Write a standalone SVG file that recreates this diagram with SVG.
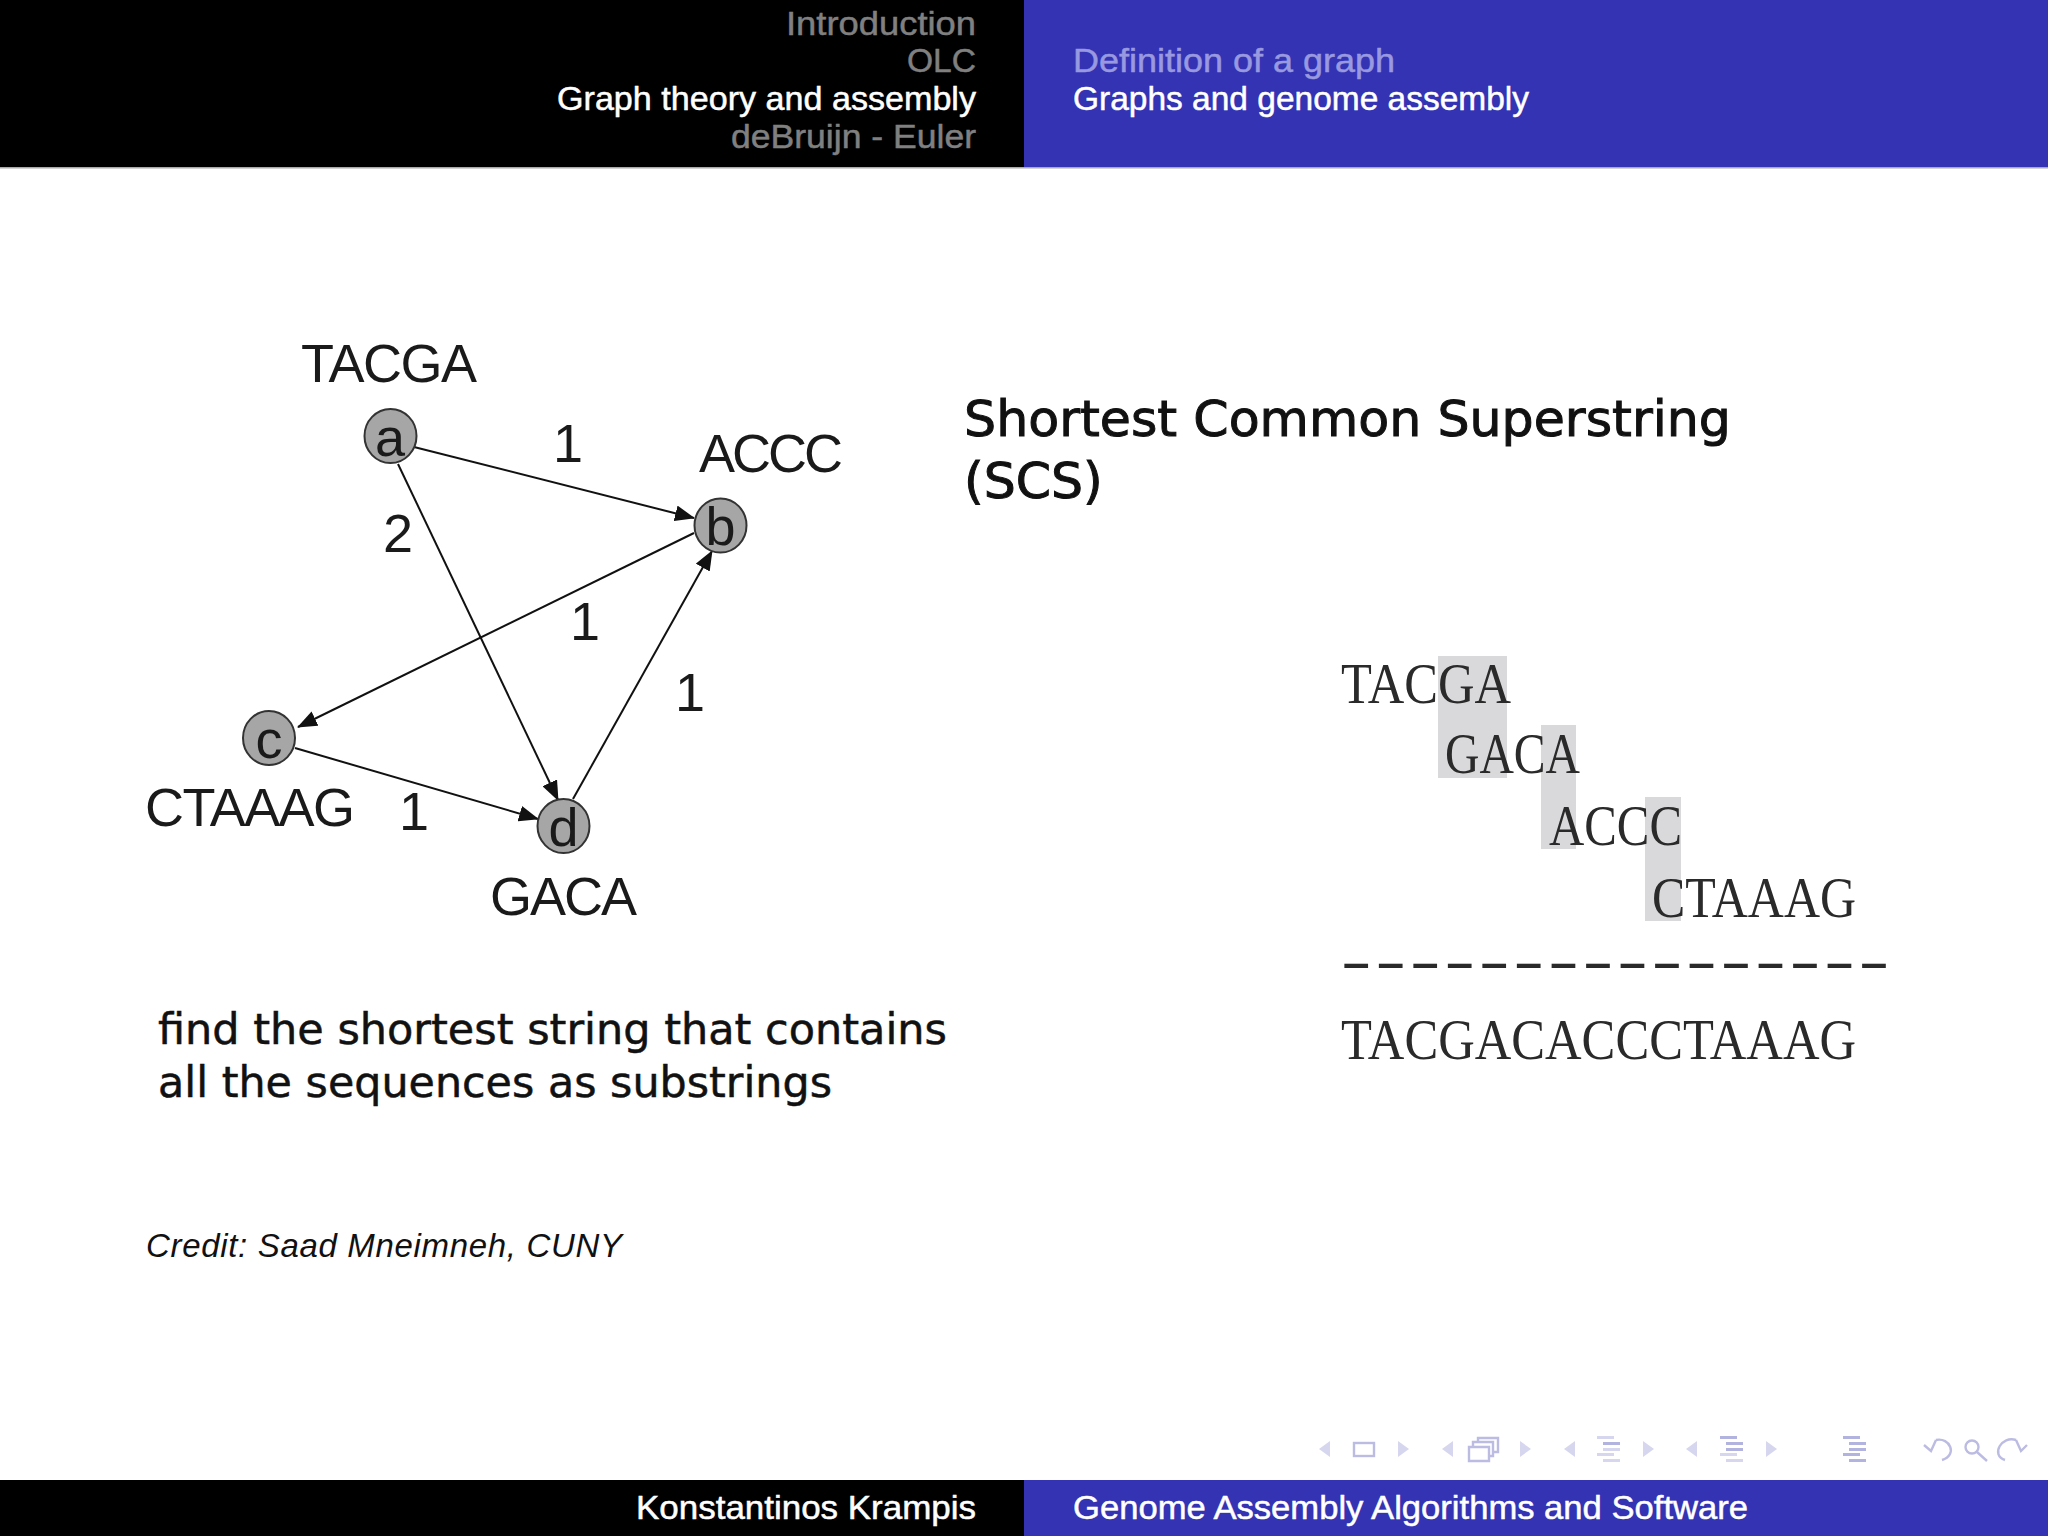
<svg xmlns="http://www.w3.org/2000/svg" width="2048" height="1536" viewBox="0 0 2048 1536">
<style>
.h{font-family:"Liberation Sans",Arial,sans-serif;font-size:34px;font-weight:400}
.w{fill:#fff;stroke:#fff;stroke-width:.5}
.g{fill:#808080;stroke:#808080;stroke-width:.5}
.l{fill:#9999e0;stroke:#9999e0;stroke-width:.5}
.a{font-family:"Liberation Sans",Arial,sans-serif;font-size:54px;fill:#1a1a1a}
.n{font-family:"Liberation Sans",Arial,sans-serif;font-size:54px;fill:#1a1a1a;text-anchor:middle}
.m{font-family:"Liberation Serif","Times New Roman",serif;font-size:57px;fill:#2a2a2a}
.t{font-family:"DejaVu Sans",sans-serif;fill:#111;stroke:#111;stroke-width:1}
.e{stroke:#111;stroke-width:2;fill:none;marker-end:url(#arr)}
.nd{fill:#a6a6a6;stroke:#333;stroke-width:2}
.hl{fill:#d9d9dc}
.i1{fill:#d6d6ef}
.i2{fill:none;stroke:#bcbce3;stroke-width:2.4}
.i3{fill:#bcbce3}
.dk{fill:#b3b3e0}
</style>
<defs>
<marker id="arr" markerUnits="userSpaceOnUse" markerWidth="20" markerHeight="16" refX="19" refY="8" orient="auto"><path d="M0 0L20 8L0 16z" fill="#111"/></marker>
</defs>
<rect width="2048" height="1536" fill="#fff"/>
<g id="header">
<rect width="1024" height="167" fill="#000"/>
<rect x="1024" width="1024" height="167" fill="#3333b3"/>
<rect y="167" width="2048" height="1.5" fill="#aaa"/>
<text class="h g" x="976" y="35" text-anchor="end" textLength="190" lengthAdjust="spacingAndGlyphs">Introduction</text>
<text class="h g" x="976" y="72" text-anchor="end" textLength="69" lengthAdjust="spacingAndGlyphs">OLC</text>
<text class="h w" x="976" y="110" text-anchor="end" textLength="419" lengthAdjust="spacingAndGlyphs">Graph theory and assembly</text>
<text class="h g" x="976" y="148" text-anchor="end" textLength="245" lengthAdjust="spacingAndGlyphs">deBruijn - Euler</text>
<text class="h l" x="1073" y="72" textLength="322" lengthAdjust="spacingAndGlyphs">Definition of a graph</text>
<text class="h w" x="1073" y="110" textLength="456" lengthAdjust="spacingAndGlyphs">Graphs and genome assembly</text>
</g>
<g id="connectors">
<line class="e" x1="414" y1="447" x2="694" y2="518"/>
<line class="e" x1="398" y1="464" x2="558" y2="800"/>
<line class="e" x1="694" y1="533" x2="298" y2="727"/>
<line class="e" x1="573" y1="799" x2="712" y2="551"/>
<line class="e" x1="295" y1="748" x2="538" y2="819"/>
</g>
<g id="node-a"><ellipse class="nd" cx="390.5" cy="436" rx="26" ry="27"/><text class="n" x="390" y="456">a</text><text class="a" x="301" y="382" textLength="176">TACGA</text></g>
<g id="node-b"><ellipse class="nd" cx="720.5" cy="525.5" rx="26" ry="27"/><text class="n" x="720.5" y="545">b</text><text class="a" x="699" y="472" textLength="144">ACCC</text></g>
<g id="node-c"><ellipse class="nd" cx="269" cy="738" rx="26" ry="27"/><text class="n" x="269" y="758">c</text><text class="a" x="145" y="826" textLength="210">CTAAAG</text></g>
<g id="node-d"><ellipse class="nd" cx="563.5" cy="826" rx="26" ry="27"/><text class="n" x="563.5" y="846">d</text><text class="a" x="490" y="915" textLength="147">GACA</text></g>
<g id="edge-labels">
<text class="n" x="568" y="462">1</text>
<text class="n" x="398" y="552">2</text>
<text class="n" x="585" y="640">1</text>
<text class="n" x="690" y="711">1</text>
<text class="n" x="414" y="830">1</text>
</g>
<g id="title">
<text class="t" x="964" y="436" font-size="50.5" textLength="767" lengthAdjust="spacingAndGlyphs">Shortest Common Superstring</text>
<text class="t" x="964" y="498" font-size="50.5">(SCS)</text>
</g>
<g id="caption">
<text class="t" x="158" y="1044" font-size="42" textLength="789" lengthAdjust="spacingAndGlyphs" style="stroke-width:.5">find the shortest string that contains</text>
<text class="t" x="158" y="1097" font-size="42" textLength="674" lengthAdjust="spacingAndGlyphs" style="stroke-width:.5">all the sequences as substrings</text>
<text x="146" y="1257" font-family="Liberation Sans,sans-serif" font-style="italic" font-size="33" fill="#111" textLength="476">Credit: Saad Mneimneh, CUNY</text>
</g>
<g id="alignment">
<rect class="hl" x="1438" y="656" width="69" height="122"/>
<rect class="hl" x="1541" y="725" width="35" height="124"/>
<rect class="hl" x="1645" y="797" width="36" height="124"/>
<text class="m" x="1341" y="703" textLength="170" lengthAdjust="spacingAndGlyphs">TACGA</text>
<text class="m" x="1445" y="773" textLength="135" lengthAdjust="spacingAndGlyphs">GACA</text>
<text class="m" x="1549" y="845" textLength="133" lengthAdjust="spacingAndGlyphs">ACCC</text>
<text class="m" x="1652" y="917" textLength="204" lengthAdjust="spacingAndGlyphs">CTAAAG</text>
<text class="m" transform="translate(1341 979) scale(1.6 1)" letter-spacing="2.6">----------------</text>
<text class="m" x="1341" y="1059" textLength="515" lengthAdjust="spacingAndGlyphs">TACGACACCCTAAAG</text>
</g>
<g id="footer">
<rect y="1480" width="1024" height="56" fill="#000"/>
<rect x="1024" y="1480" width="1024" height="56" fill="#3333b3"/>
<text class="h w" x="976" y="1519" text-anchor="end" textLength="340" lengthAdjust="spacingAndGlyphs">Konstantinos Krampis</text>
<text class="h w" x="1073" y="1519" textLength="675" lengthAdjust="spacingAndGlyphs">Genome Assembly Algorithms and Software</text>
</g>
<g id="nav">
<path class="i1" d="M1330 1441V1457L1319 1449z"/>
<rect class="i2" x="1354" y="1443" width="20" height="13"/>
<path class="i1" d="M1398 1441V1457L1409 1449z"/>
<path class="i1" d="M1453 1441V1457L1442 1449z"/>
<path class="i2" d="M1469 1447h20v14h-20zM1473 1447v-5h20v14h-4M1478 1442v-4h20v14h-5"/>
<path class="i1" d="M1520 1441V1457L1531 1449z"/>
<path class="i1" d="M1575 1441V1457L1564 1449z"/>
<g class="i1"><rect x="1597" y="1436" width="17" height="3"/><rect class="dk" x="1603" y="1442" width="17" height="3"/><rect x="1603" y="1448" width="17" height="3"/><rect x="1597" y="1453" width="17" height="3"/><rect x="1603" y="1459" width="17" height="3"/></g>
<path class="i1" d="M1643 1441V1457L1654 1449z"/>
<path class="i1" d="M1697 1441V1457L1686 1449z"/>
<g class="i1"><rect class="dk" x="1720" y="1436" width="17" height="3"/><rect class="dk" x="1726" y="1442" width="17" height="3"/><rect class="dk" x="1726" y="1448" width="17" height="3"/><rect x="1720" y="1453" width="17" height="3"/><rect x="1726" y="1459" width="17" height="3"/></g>
<path class="i1" d="M1766 1441V1457L1777 1449z"/>
<g class="dk"><rect x="1843" y="1436" width="17" height="3"/><rect x="1849" y="1442" width="17" height="3"/><rect x="1849" y="1448" width="17" height="3"/><rect x="1843" y="1453" width="17" height="3"/><rect x="1849" y="1459" width="17" height="3"/></g>
<path class="i2" d="M1936 1440C1950 1437 1958 1455 1942 1460M1924 1445l7 6 5-11"/>
<circle class="i2" cx="1972" cy="1447" r="6.5"/><path class="i2" stroke-width="3" d="M1977 1452l10 9"/>
<path class="i2" d="M2016 1440C2002 1435 1990 1455 2005 1460M2027 1445l-6 6-5-11"/>
</g>
</svg>
